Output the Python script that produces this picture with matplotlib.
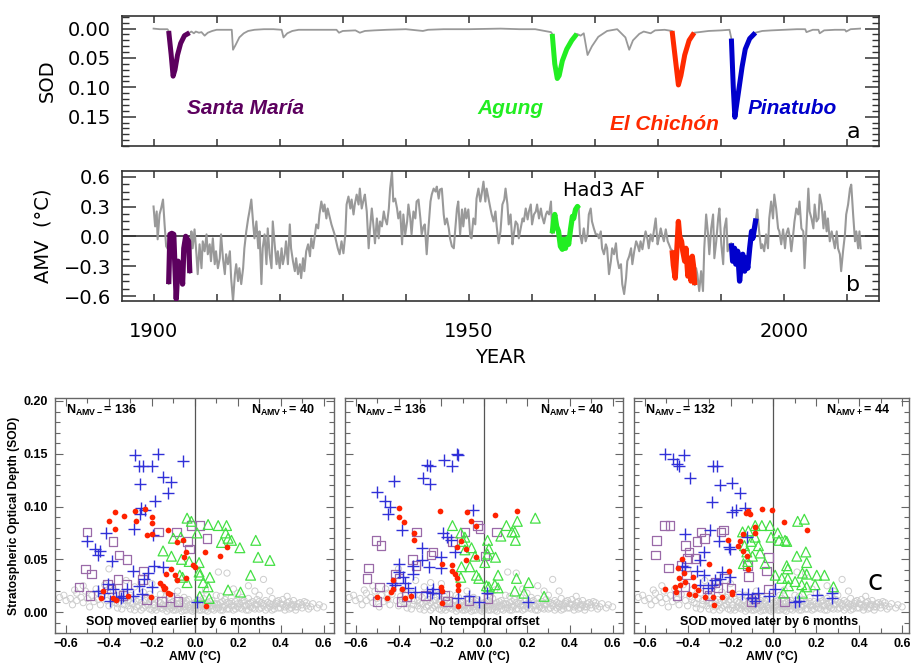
import numpy as np
import matplotlib
matplotlib.use("Agg")
import matplotlib.pyplot as plt
from matplotlib.ticker import MultipleLocator, FuncFormatter

plt.rcParams['font.family'] = ['DejaVu Sans']
plt.rcParams['mathtext.fontset'] = 'custom'
plt.rcParams['mathtext.rm'] = 'Liberation Sans'
plt.rcParams['mathtext.bf'] = 'Liberation Sans:bold'

# ---------------- data: time series ----------------
sod_year = [1900.0, 1901.0, 1902.2, 1902.4, 1902.8, 1903.1, 1903.4, 1903.8, 1904.3, 1904.9,
            1905.7, 1906.0, 1906.4, 1906.7, 1907.2, 1907.6, 1908.1, 1908.6, 1909.3, 1910.0,
            1911.5, 1912.4, 1912.6, 1913.0, 1913.6, 1914.3, 1915.0, 1916.0, 1917.5, 1919.0,
            1920.3, 1920.6, 1921.2, 1922.0, 1923.0, 1925.0, 1927.0, 1929.0, 1929.4, 1930.0,
            1932.0, 1932.7, 1933.5, 1935.0, 1937.0, 1940.0, 1942.7, 1943.5, 1946.0, 1950.0,
            1955.0, 1958.0, 1960.5, 1961.5, 1962.5, 1963.0, 1963.2, 1963.6, 1964.0, 1964.3,
            1964.8, 1965.5, 1966.3, 1967.1, 1967.7, 1968.2, 1968.8, 1969.5, 1970.5, 1971.9,
            1973.5, 1974.8, 1975.4, 1976.0, 1977.0, 1977.7, 1978.8, 1979.5, 1981.0, 1982.2,
            1982.7, 1983.2, 1983.6, 1984.2, 1984.9, 1985.7, 1986.5, 1988.0, 1990.0, 1991.3,
            1991.6, 1991.9, 1992.15, 1992.5, 1992.9, 1993.3, 1993.8, 1994.5, 1995.4, 1996.5,
            1998.0, 2000.0, 2002.0, 2003.3, 2003.5, 2004.5, 2005.4, 2005.6, 2006.3, 2008.0,
            2009.6, 2009.8, 2010.5, 2012.0]
sod_val = [0.000, 0.001, 0.001, 0.004, 0.045, 0.081, 0.070, 0.045, 0.025, 0.012,
           0.007, 0.005, 0.008, 0.005, 0.007, 0.006, 0.012, 0.007, 0.004, 0.002,
           0.002, 0.002, 0.036, 0.028, 0.015, 0.008, 0.004, 0.002, 0.001, 0.001,
           0.002, 0.015, 0.008, 0.004, 0.002, 0.002, 0.002, 0.002, 0.007, 0.004,
           0.003, 0.007, 0.004, 0.003, 0.002, 0.001, 0.004, 0.002, 0.001, 0.001,
           0.000, 0.001, 0.001, 0.003, 0.005, 0.006, 0.009, 0.060, 0.085, 0.080,
           0.055, 0.035, 0.020, 0.009, 0.012, 0.008, 0.045, 0.030, 0.014, 0.004,
           0.001, 0.015, 0.036, 0.020, 0.009, 0.005, 0.008, 0.003, 0.002, 0.004,
           0.050, 0.096, 0.080, 0.045, 0.020, 0.007, 0.006, 0.004, 0.003, 0.002,
           0.017, 0.100, 0.151, 0.125, 0.095, 0.065, 0.035, 0.017, 0.007, 0.004,
           0.003, 0.002, 0.001, 0.001, 0.006, 0.002, 0.002, 0.008, 0.003, 0.002,
           0.002, 0.005, 0.001, 0.000]

amv_year = [1900.0, 1900.25, 1900.5, 1900.65, 1900.95, 1901.2, 1901.5, 1901.75, 1902.0, 1902.3,
            1902.4, 1902.6, 1902.9, 1903.2, 1903.4, 1903.6, 1903.9, 1904.1, 1904.4, 1904.6,
            1904.8, 1905.1, 1905.3, 1905.55, 1905.75, 1906.0, 1906.2, 1906.5, 1906.8, 1907.0,
            1907.3, 1907.6, 1907.8, 1908.1, 1908.4, 1908.6, 1908.9, 1909.1, 1909.4, 1909.7,
            1909.9, 1910.2, 1910.5, 1910.7, 1911.0, 1911.3, 1911.5, 1911.8, 1912.1, 1912.3,
            1912.6, 1912.9, 1913.1, 1913.4, 1913.6, 1913.9, 1914.2, 1914.4, 1914.7, 1915.0,
            1915.2, 1915.5, 1915.8, 1916.0, 1916.3, 1916.6, 1916.8, 1917.1, 1917.3, 1917.6,
            1917.9, 1918.1, 1918.4, 1918.7, 1918.9, 1919.2, 1919.5, 1919.7, 1920.0, 1920.3,
            1920.5, 1920.8, 1921.0, 1921.3, 1921.6, 1921.8, 1922.1, 1922.4, 1922.6, 1922.9,
            1923.2, 1923.4, 1923.7, 1923.9, 1924.2, 1924.5, 1924.8, 1925.0, 1925.3, 1925.6,
            1925.8, 1926.1, 1926.3, 1926.6, 1926.9, 1927.1, 1927.4, 1927.6, 1928.2, 1928.7,
            1929.2, 1929.5, 1929.8, 1930.1, 1930.4, 1930.6, 1930.9, 1931.2, 1931.4, 1931.7,
            1931.9, 1932.2, 1932.5, 1932.7, 1933.0, 1933.3, 1933.5, 1933.8, 1934.1, 1934.3,
            1934.6, 1934.9, 1935.1, 1935.4, 1935.7, 1935.9, 1936.2, 1936.5, 1936.7, 1937.0,
            1937.3, 1937.5, 1937.8, 1938.0, 1938.3, 1938.6, 1938.8, 1939.1, 1939.4, 1939.6,
            1939.9, 1940.2, 1940.4, 1940.7, 1940.9, 1941.2, 1941.5, 1941.7, 1942.0, 1942.3,
            1942.5, 1942.8, 1943.0, 1943.3, 1943.6, 1943.9, 1944.1, 1944.4, 1944.7, 1944.9,
            1945.2, 1945.4, 1945.7, 1946.0, 1946.2, 1946.5, 1946.8, 1947.0, 1947.3, 1947.6,
            1947.8, 1948.1, 1948.3, 1948.6, 1948.9, 1949.1, 1949.4, 1949.6, 1949.9, 1950.2,
            1950.4, 1950.7, 1951.0, 1951.2, 1951.5, 1951.8, 1952.0, 1952.3, 1952.6, 1952.8,
            1953.1, 1953.4, 1953.6, 1953.9, 1954.2, 1954.4, 1954.7, 1955.0, 1955.2, 1955.3,
            1955.6, 1955.8, 1956.1, 1956.3, 1956.6, 1956.9, 1957.1, 1957.4, 1957.7, 1957.9,
            1958.2, 1958.5, 1958.7, 1959.0, 1959.3, 1959.5, 1959.8, 1960.0, 1960.3, 1960.6,
            1960.8, 1961.1, 1961.4, 1961.6, 1961.9, 1962.2, 1962.4, 1962.7, 1963.0, 1963.2,
            1963.4, 1963.6, 1963.9, 1964.2, 1964.5, 1964.8, 1965.0, 1965.3, 1965.6, 1965.8,
            1966.1, 1966.4, 1966.6, 1966.9, 1967.2, 1967.4, 1967.6, 1967.9, 1968.2, 1968.5,
            1968.8, 1969.0, 1969.3, 1969.5, 1969.8, 1970.1, 1970.4, 1970.6, 1970.9, 1971.1,
            1971.4, 1971.7, 1971.9, 1972.2, 1972.5, 1972.7, 1973.0, 1973.3, 1973.5, 1973.8,
            1974.1, 1974.3, 1974.6, 1974.9, 1975.1, 1975.4, 1975.7, 1975.9, 1976.2, 1976.5,
            1976.7, 1977.0, 1977.2, 1977.5, 1977.7, 1978.0, 1978.3, 1978.5, 1978.8, 1979.1,
            1979.3, 1979.6, 1979.9, 1980.1, 1980.4, 1980.6, 1980.9, 1981.2, 1981.5, 1981.7,
            1982.0, 1982.2, 1982.4, 1982.7, 1982.9, 1983.2, 1983.4, 1983.7, 1983.9, 1984.2,
            1984.4, 1984.7, 1984.9, 1985.2, 1985.4, 1985.6, 1985.8, 1986.0, 1986.2, 1986.5,
            1986.8, 1987.1, 1987.3, 1987.6, 1987.9, 1988.1, 1988.4, 1988.7, 1988.9, 1989.2,
            1989.5, 1989.7, 1990.0, 1990.3, 1990.5, 1990.8, 1991.0, 1991.3, 1991.6, 1991.8,
            1992.1, 1992.3, 1992.6, 1992.9, 1993.2, 1993.4, 1993.7, 1993.9, 1994.2, 1994.5,
            1994.8, 1995.0, 1995.3, 1995.5, 1995.7, 1996.0, 1996.3, 1996.5, 1996.8, 1997.1,
            1997.4, 1997.6, 1997.9, 1998.2, 1998.4, 1998.7, 1999.0, 1999.2, 1999.5, 1999.8,
            2000.1, 2000.3, 2000.6, 2000.9, 2001.1, 2001.4, 2001.6, 2001.9, 2002.2, 2002.4,
            2002.7, 2003.0, 2003.2, 2003.5, 2003.8, 2004.0, 2004.3, 2004.6, 2004.8, 2005.1,
            2005.4, 2005.6, 2005.9, 2006.2, 2006.4, 2006.7, 2006.9, 2007.2, 2007.5, 2007.7,
            2008.0, 2008.3, 2008.5, 2008.8, 2009.0, 2009.3, 2009.6, 2009.8, 2010.1, 2010.4,
            2010.6, 2010.9, 2011.2, 2011.4, 2011.7, 2011.9, 2012.1]
amv_val = [0.30, 0.10, 0.25, -0.03, 0.22, 0.28, 0.37, 0.12, -0.10, -0.13,
           -0.48, 0.02, 0.03, 0.02, -0.32, -0.63, -0.25, -0.42, -0.32, -0.48,
           -0.12, 0.00, -0.02, -0.05, -0.37, 0.05, -0.12, 0.07, -0.18, -0.38,
           -0.08, -0.32, -0.05, -0.15, 0.02, -0.18, -0.08, -0.25, -0.02, -0.28,
           -0.15, -0.32, -0.22, 0.02, -0.22, -0.38, -0.18, -0.28, -0.15, -0.42,
           -0.65, -0.38, -0.28, -0.45, -0.32, -0.48, -0.32, -0.12, 0.05, 0.18,
           0.25, 0.37, 0.12, -0.02, 0.15, -0.12, 0.05, -0.48, -0.12, 0.02,
           -0.28, 0.08, -0.18, -0.32, 0.15, -0.08, -0.28, -0.15, -0.32, -0.12,
           -0.28, -0.18, -0.05, -0.28, 0.12, -0.12, -0.25, -0.35, -0.22, -0.38,
           -0.28, -0.42, -0.22, -0.35, -0.15, -0.08, -0.20, -0.02, -0.12, 0.02,
           0.12, 0.08, 0.22, 0.35, 0.25, 0.32, 0.18, 0.28, 0.12, 0.02,
           -0.12, -0.18, -0.05, -0.17, 0.02, 0.32, 0.40, 0.28, 0.37, 0.22,
           0.32, 0.42, 0.32, 0.48, 0.28, 0.37, 0.42, 0.25, -0.12, 0.07,
           0.28, 0.08, -0.07, 0.18, -0.02, 0.15, 0.10, 0.25, 0.18, 0.12,
           0.28, 0.48, 0.65, 0.35, 0.38, 0.28, 0.18, 0.25, -0.08, 0.22,
           0.02, 0.15, 0.32, 0.18, 0.02, 0.25, 0.18, 0.35, 0.37, 0.18,
           0.02, 0.10, 0.12, -0.18, 0.10, 0.35, 0.42, 0.48, 0.45, 0.50,
           0.38, 0.47, 0.48, 0.22, 0.12, 0.18, 0.08, -0.02, -0.10, -0.12,
           0.05, 0.28, 0.35, 0.02, 0.27, 0.10, 0.28, 0.18, 0.27, 0.00,
           -0.02, 0.18, 0.12, 0.38, 0.48, 0.35, 0.42, 0.55, 0.35, 0.48,
           0.38, 0.28, 0.22, 0.15, 0.25, 0.10, -0.07, 0.05, 0.22, 0.32,
           0.37, 0.48, 0.32, 0.12, 0.22, -0.08, 0.02, 0.15, 0.12, -0.02,
           0.08, 0.18, 0.15, 0.28, 0.17, 0.25, 0.32, 0.12, 0.22, 0.25,
           0.32, 0.18, 0.28, 0.20, 0.13, 0.22, 0.25, 0.22, 0.35, 0.03,
           0.15, 0.22, 0.10, 0.05, -0.10, -0.13, -0.03, -0.12, -0.02, -0.08,
           0.07, 0.20, 0.18, 0.27, 0.30, 0.28, 0.02, -0.07, 0.08, -0.05,
           0.02, 0.22, 0.28, 0.15, 0.08, 0.02, 0.02, -0.02, 0.05, -0.12,
           -0.18, -0.08, -0.12, -0.38, -0.25, -0.12, -0.18, -0.07, -0.22, -0.32,
           -0.28, -0.48, -0.58, -0.42, -0.25, -0.20, -0.12, -0.28, -0.15, -0.05,
           -0.08, -0.15, -0.05, -0.13, -0.05, 0.05, -0.03, -0.12, 0.02, -0.05,
           0.05, 0.18, -0.08, -0.02, 0.08, 0.02, -0.05, 0.07, -0.05, -0.08,
           -0.13, -0.14, -0.29, -0.42, -0.20, 0.15, 0.00, -0.05, -0.15, -0.25,
           -0.12, -0.40, -0.22, -0.45, -0.20, -0.30, -0.49, -0.32, -0.38, -0.55,
           -0.35, -0.55, -0.12, 0.22, 0.02, -0.18, 0.08, 0.22, -0.22, -0.05,
           0.18, 0.28, -0.08, -0.28, 0.08, 0.18, -0.15, -0.08, -0.07, -0.25,
           -0.12, -0.28, -0.15, -0.45, -0.25, -0.18, -0.35, -0.22, -0.32, -0.12,
           0.05, -0.02, 0.10, 0.18, 0.27, 0.05, -0.12, -0.08, -0.15, 0.02,
           -0.12, 0.18, 0.35, 0.18, 0.42, 0.28, 0.08, 0.05, -0.08, 0.07,
           -0.12, 0.02, 0.08, -0.02, -0.15, 0.02, 0.15, 0.28, 0.22, 0.35,
           0.08, 0.05, -0.32, 0.08, 0.48, 0.25, 0.18, 0.08, 0.32, 0.15,
           0.18, 0.42, 0.32, 0.08, 0.25, 0.05, 0.18, -0.05, 0.05, -0.02,
           -0.12, 0.05, -0.12, -0.18, -0.35, -0.15, 0.02, 0.22, 0.32, 0.48,
           0.52, 0.22, -0.05, 0.05, -0.12, 0.05, -0.12]

# volcano windows (years) used to highlight both series
volcano_names = ['Santa María', 'Agung', 'El Chichón', 'Pinatubo']
volcano_start = [1902.4, 1963.2, 1982.2, 1991.6]
volcano_end = [1905.75, 1967.4, 1985.8, 1995.5]
volcano_colors = ['#5c005e', '#22ee22', '#ff2a00', '#0000cc']

# ---------------- data: scatter panels (AMV, SOD) ----------------
bg_pts = [(-0.63, 0.014), (-0.61, 0.016), (-0.60, 0.011), (-0.58, 0.013), (-0.57, 0.007), (-0.55, 0.018),
          (-0.55, 0.011), (-0.53, 0.014), (-0.52, 0.009), (-0.51, 0.020), (-0.50, 0.013), (-0.49, 0.005),
          (-0.48, 0.016), (-0.47, 0.010), (-0.46, 0.022), (-0.45, 0.012), (-0.44, 0.007), (-0.43, 0.017),
          (-0.42, 0.026), (-0.41, 0.011), (-0.40, 0.041), (-0.40, 0.006), (-0.39, 0.015), (-0.38, 0.021),
          (-0.37, 0.009), (-0.36, 0.004), (-0.35, 0.013), (-0.34, 0.018), (-0.33, 0.007), (-0.32, 0.030),
          (-0.31, 0.011), (-0.30, 0.003), (-0.30, 0.016), (-0.29, 0.008), (-0.28, 0.024), (-0.27, 0.005),
          (-0.26, 0.012), (-0.25, 0.002), (-0.25, 0.009), (-0.24, 0.019), (-0.23, 0.006), (-0.22, 0.014),
          (-0.21, 0.003), (-0.21, 0.010), (-0.20, 0.027), (-0.19, 0.007), (-0.18, 0.012), (-0.18, 0.002),
          (-0.17, 0.005), (-0.16, 0.009), (-0.16, 0.017), (-0.15, 0.003), (-0.14, 0.011), (-0.14, 0.006),
          (-0.13, 0.001), (-0.12, 0.008), (-0.12, 0.014), (-0.11, 0.004), (-0.10, 0.010), (-0.10, 0.002),
          (-0.09, 0.006), (-0.08, 0.013), (-0.08, 0.003), (-0.07, 0.008), (-0.06, 0.001), (-0.06, 0.011),
          (-0.05, 0.005), (-0.04, 0.008), (-0.04, 0.002), (-0.03, 0.012), (-0.02, 0.004), (-0.02, 0.007),
          (-0.01, 0.001), (0.00, 0.009), (0.00, 0.004), (0.01, 0.006), (0.02, 0.002), (0.02, 0.011),
          (0.03, 0.007), (0.04, 0.003), (0.04, 0.013), (0.05, 0.005), (0.06, 0.009), (0.06, 0.001),
          (0.07, 0.006), (0.08, 0.011), (0.08, 0.003), (0.09, 0.008), (0.10, 0.004), (0.10, 0.016),
          (0.11, 0.038), (0.11, 0.007), (0.12, 0.002), (0.13, 0.010), (0.13, 0.005), (0.14, 0.012),
          (0.15, 0.037), (0.15, 0.003), (0.16, 0.008), (0.17, 0.006), (0.17, 0.014), (0.18, 0.002),
          (0.19, 0.010), (0.20, 0.005), (0.20, 0.018), (0.21, 0.008), (0.22, 0.003), (0.23, 0.011),
          (0.24, 0.006), (0.25, 0.013), (0.25, 0.002), (0.26, 0.009), (0.27, 0.004), (0.28, 0.020),
          (0.28, 0.007), (0.29, 0.012), (0.30, 0.003), (0.31, 0.009), (0.32, 0.031), (0.32, 0.006),
          (0.33, 0.011), (0.34, 0.004), (0.35, 0.008), (0.36, 0.013), (0.36, 0.002), (0.37, 0.006),
          (0.38, 0.010), (0.39, 0.004), (0.40, 0.008), (0.41, 0.012), (0.42, 0.005), (0.43, 0.009),
          (0.44, 0.003), (0.45, 0.007), (0.46, 0.011), (0.47, 0.005), (0.48, 0.008), (0.50, 0.004),
          (0.51, 0.010), (0.52, 0.006), (0.53, 0.003), (0.57, 0.004), (0.58, 0.007), (0.60, 0.005),
          (-0.36, 0.008), (-0.34, 0.003), (-0.33, 0.011), (-0.31, 0.006), (-0.30, 0.009), (-0.28, 0.002),
          (-0.27, 0.010), (-0.26, 0.006), (-0.24, 0.004), (-0.23, 0.011), (-0.22, 0.007), (-0.20, 0.002),
          (-0.20, 0.012), (-0.19, 0.004), (-0.17, 0.010), (-0.16, 0.004), (-0.15, 0.007), (-0.13, 0.005),
          (-0.12, 0.003), (-0.11, 0.009), (-0.10, 0.006), (-0.09, 0.002), (-0.08, 0.008), (-0.07, 0.004),
          (-0.06, 0.007), (-0.05, 0.002), (-0.04, 0.011), (-0.03, 0.005), (-0.02, 0.002), (-0.01, 0.008),
          (0.00, 0.002), (0.01, 0.010), (0.02, 0.005), (0.03, 0.002), (0.03, 0.009), (0.05, 0.008),
          (0.05, 0.002), (0.06, 0.005), (0.07, 0.010), (0.08, 0.006), (0.09, 0.002), (0.10, 0.008),
          (0.11, 0.004), (0.12, 0.009), (0.13, 0.002), (0.14, 0.006), (0.15, 0.009), (0.16, 0.003),
          (0.17, 0.010), (0.18, 0.006), (0.19, 0.003), (0.20, 0.008), (0.21, 0.004), (0.22, 0.010),
          (0.23, 0.006), (0.24, 0.002), (0.25, 0.008), (0.26, 0.005), (0.27, 0.010), (0.28, 0.003),
          (0.29, 0.007), (0.30, 0.010), (0.31, 0.004), (0.32, 0.008), (0.33, 0.002), (0.34, 0.009),
          (0.35, 0.005), (0.36, 0.007), (0.37, 0.003), (0.38, 0.008), (0.39, 0.011), (0.40, 0.004),
          (0.41, 0.007), (0.42, 0.002), (0.43, 0.006), (0.44, 0.010), (0.45, 0.004), (0.46, 0.007),
          (0.47, 0.002), (0.48, 0.005), (0.49, 0.009), (0.50, 0.007), (0.52, 0.009), (0.54, 0.005),
          (0.55, 0.008), (-0.45, 0.018), (-0.38, 0.012), (-0.29, 0.014), (-0.21, 0.017), (-0.13, 0.016),
          (-0.05, 0.014), (0.03, 0.016), (0.12, 0.015), (0.22, 0.014), (0.30, 0.016), (0.35, 0.020),
          (0.18, 0.022), (0.05, 0.021), (-0.08, 0.020), (-0.25, 0.028), (-0.52, 0.025), (-0.56, 0.021),
          (0.43, 0.015), (0.25, 0.025)]

# panel 1: SOD moved earlier by 6 months
stm_early = [(-0.502, 0.076), (-0.381, 0.067), (-0.315, 0.050), (-0.354, 0.054), (-0.508, 0.041),
             (-0.482, 0.036), (-0.540, 0.024), (-0.489, 0.016), (-0.408, 0.026), (-0.357, 0.031),
             (-0.318, 0.026), (-0.391, 0.022), (-0.334, 0.016), (-0.225, 0.012), (-0.238, 0.039),
             (-0.244, 0.031), (-0.155, 0.010), (-0.078, 0.010), (-0.116, 0.014), (-0.169, 0.076),
             (-0.085, 0.076), (-0.034, 0.067), (-0.026, 0.060), (-0.016, 0.082), (0.023, 0.082),
             (0.057, 0.070)]
agu_early = [(-0.036, 0.089), (-0.016, 0.086), (0.011, 0.075), (0.062, 0.083), (0.109, 0.082),
             (0.148, 0.082), (0.144, 0.075), (0.171, 0.068), (0.124, 0.066), (0.155, 0.070),
             (0.210, 0.061), (0.284, 0.068), (0.350, 0.049), (0.295, 0.052), (-0.148, 0.058),
             (-0.100, 0.070), (-0.065, 0.071), (-0.109, 0.053), (-0.062, 0.050), (-0.026, 0.048),
             (0.020, 0.047), (0.020, 0.038), (0.070, 0.033), (0.039, 0.028), (0.062, 0.024),
             (0.067, 0.013), (0.023, 0.015), (-0.057, 0.033), (-0.036, 0.028), (-0.070, 0.035),
             (0.155, 0.021), (0.213, 0.019), (0.260, 0.035), (0.023, 0.035)]
elc_early = [(-0.233, 0.098), (-0.272, 0.086), (-0.331, 0.091), (-0.373, 0.095), (-0.400, 0.086),
             (-0.373, 0.079), (-0.280, 0.096), (-0.199, 0.090), (-0.199, 0.084), (-0.200, 0.074),
             (-0.222, 0.073), (-0.124, 0.078), (-0.057, 0.068), (-0.082, 0.066), (-0.042, 0.057),
             (-0.048, 0.052), (-0.008, 0.045), (0.000, 0.043), (0.048, 0.057), (0.152, 0.062),
             (0.116, 0.053), (-0.113, 0.041), (-0.135, 0.036), (-0.090, 0.035), (-0.085, 0.030),
             (-0.039, 0.032), (-0.160, 0.028), (-0.148, 0.025), (-0.137, 0.023), (-0.124, 0.018),
             (-0.116, 0.017), (-0.143, 0.022), (-0.430, 0.020), (-0.435, 0.013), (-0.380, 0.013),
             (-0.365, 0.012), (-0.205, 0.014), (0.051, 0.006), (-0.310, 0.015)]
pin_early = [(-0.280, 0.149), (-0.171, 0.150), (-0.057, 0.143), (-0.260, 0.138), (-0.240, 0.138),
             (-0.200, 0.138), (-0.150, 0.128), (-0.113, 0.123), (-0.256, 0.121), (-0.124, 0.113),
             (-0.186, 0.105), (-0.249, 0.099), (-0.256, 0.093), (-0.230, 0.097), (-0.281, 0.079),
             (-0.197, 0.073), (-0.415, 0.075), (-0.500, 0.067), (-0.463, 0.060), (-0.443, 0.058),
             (-0.450, 0.054), (-0.388, 0.048), (-0.148, 0.043), (-0.190, 0.044), (-0.290, 0.039),
             (-0.217, 0.037), (-0.238, 0.031), (-0.260, 0.025), (-0.200, 0.024), (-0.404, 0.027),
             (-0.318, 0.022), (-0.380, 0.022), (-0.450, 0.020), (-0.424, 0.018), (-0.365, 0.014),
             (-0.334, 0.015), (-0.290, 0.015), (-0.244, 0.017), (-0.393, 0.011), (0.008, 0.010),
             (-0.342, 0.013)]

# panel 2: no temporal offset
stm_zero = [(-0.506, 0.068), (-0.482, 0.063), (-0.540, 0.042), (-0.548, 0.032), (-0.489, 0.024),
            (-0.500, 0.010), (-0.385, 0.010), (-0.362, 0.015), (-0.315, 0.076), (-0.336, 0.050),
            (-0.318, 0.044), (-0.238, 0.057), (-0.249, 0.054), (-0.413, 0.036), (-0.398, 0.032),
            (-0.273, 0.016), (-0.183, 0.016), (-0.171, 0.010), (-0.071, 0.011), (0.019, 0.013),
            (-0.090, 0.076), (-0.031, 0.082), (-0.020, 0.079), (0.057, 0.076), (0.003, 0.053),
            (-0.149, 0.067)]
agu_zero = [(-0.148, 0.082), (-0.109, 0.075), (-0.090, 0.071), (-0.098, 0.067), (-0.059, 0.061),
            (-0.090, 0.059), (0.016, 0.068), (0.022, 0.060), (-0.043, 0.053), (0.016, 0.055),
            (0.053, 0.052), (0.003, 0.047), (-0.106, 0.043), (-0.067, 0.043), (-0.109, 0.033),
            (-0.036, 0.035), (-0.025, 0.032), (0.065, 0.035), (0.011, 0.025), (0.050, 0.026),
            (0.155, 0.086), (0.104, 0.082), (0.143, 0.076), (0.078, 0.072), (0.146, 0.068),
            (0.130, 0.076), (0.239, 0.089), (0.151, 0.032), (0.208, 0.028), (0.143, 0.020),
            (0.186, 0.018), (0.280, 0.015), (0.022, 0.024), (0.065, 0.023)]
elc_zero = [(-0.398, 0.099), (-0.400, 0.090), (-0.374, 0.085), (-0.328, 0.075), (-0.328, 0.068),
            (-0.207, 0.096), (-0.078, 0.095), (-0.062, 0.086), (-0.036, 0.082), (0.050, 0.092),
            (0.155, 0.096), (-0.129, 0.062), (-0.109, 0.067), (-0.085, 0.060), (-0.087, 0.049),
            (-0.040, 0.052), (-0.152, 0.045), (-0.148, 0.039), (-0.137, 0.036), (-0.129, 0.032),
            (-0.196, 0.046), (-0.202, 0.024), (-0.196, 0.020), (-0.121, 0.026), (-0.121, 0.021),
            (-0.121, 0.006), (-0.342, 0.015), (-0.385, 0.022), (-0.424, 0.030), (-0.427, 0.022),
            (-0.435, 0.019), (-0.455, 0.013), (-0.500, 0.014), (-0.370, 0.013), (-0.199, 0.009)]
pin_zero = [(-0.121, 0.149), (-0.129, 0.150), (-0.186, 0.144), (-0.152, 0.138), (-0.269, 0.139),
            (-0.253, 0.138), (-0.284, 0.127), (-0.253, 0.121), (-0.419, 0.124), (-0.500, 0.114),
            (-0.463, 0.105), (-0.440, 0.100), (-0.450, 0.093), (-0.051, 0.097), (-0.385, 0.078),
            (-0.289, 0.061), (-0.194, 0.075), (-0.172, 0.071), (-0.155, 0.068), (-0.134, 0.057),
            (-0.292, 0.049), (-0.202, 0.052), (-0.331, 0.044), (-0.258, 0.043), (-0.202, 0.042),
            (-0.400, 0.046), (-0.331, 0.036), (-0.429, 0.028), (-0.416, 0.026), (-0.354, 0.023),
            (-0.323, 0.019), (-0.269, 0.019), (-0.238, 0.022), (-0.245, 0.018), (-0.380, 0.033),
            (-0.370, 0.028), (-0.121, 0.013), (-0.071, 0.015), (-0.025, 0.010), (0.011, 0.018),
            (0.205, 0.010), (-0.400, 0.038), (-0.210, 0.018)]

# panel 3: SOD moved later by 6 months
stm_late = [(-0.508, 0.082), (-0.482, 0.082), (-0.544, 0.068), (-0.551, 0.054), (-0.489, 0.042),
            (-0.409, 0.063), (-0.393, 0.057), (-0.400, 0.051), (-0.365, 0.051), (-0.430, 0.044),
            (-0.404, 0.035), (-0.450, 0.016), (-0.412, 0.024), (-0.337, 0.076), (-0.322, 0.070),
            (-0.357, 0.067), (-0.244, 0.076), (-0.233, 0.078), (-0.259, 0.023), (-0.310, 0.022),
            (-0.272, 0.028), (-0.228, 0.032), (-0.197, 0.023), (-0.117, 0.034), (-0.120, 0.044),
            (-0.031, 0.039), (-0.023, 0.052), (-0.101, 0.010), (-0.085, 0.013), (-0.023, 0.022),
            (0.051, 0.010), (-0.298, 0.016)]
agu_late = [(-0.144, 0.076), (-0.117, 0.077), (-0.085, 0.082), (-0.054, 0.082), (-0.016, 0.082),
            (0.020, 0.075), (-0.011, 0.071), (0.026, 0.068), (0.054, 0.068), (0.062, 0.067),
            (0.113, 0.086), (0.144, 0.088), (-0.085, 0.071), (-0.104, 0.067), (-0.070, 0.063),
            (-0.135, 0.063), (-0.124, 0.057), (-0.062, 0.056), (-0.098, 0.053), (-0.120, 0.048),
            (-0.140, 0.046), (-0.039, 0.046), (0.109, 0.053), (0.151, 0.057), (0.155, 0.047),
            (0.062, 0.044), (0.008, 0.035), (0.039, 0.032), (0.067, 0.032), (0.067, 0.041),
            (0.135, 0.037), (0.155, 0.036), (0.202, 0.035), (0.238, 0.035), (0.194, 0.026),
            (0.132, 0.026), (0.155, 0.024), (0.070, 0.025), (0.135, 0.018), (0.047, 0.018),
            (0.280, 0.024), (0.101, 0.029)]
elc_late = [(-0.051, 0.098), (-0.008, 0.097), (-0.117, 0.096), (-0.129, 0.094), (-0.109, 0.093),
            (0.050, 0.085), (0.155, 0.078), (-0.085, 0.081), (-0.085, 0.075), (-0.140, 0.074),
            (-0.155, 0.067), (-0.210, 0.068), (-0.166, 0.063), (-0.140, 0.058), (-0.124, 0.053),
            (-0.300, 0.046), (-0.207, 0.039), (-0.120, 0.041), (-0.427, 0.050), (-0.443, 0.042),
            (-0.419, 0.037), (-0.412, 0.029), (-0.440, 0.032), (-0.458, 0.024), (-0.454, 0.019),
            (-0.505, 0.022), (-0.435, 0.026), (-0.373, 0.033), (-0.368, 0.025), (-0.365, 0.016),
            (-0.393, 0.017), (-0.318, 0.014), (-0.280, 0.014), (-0.275, 0.007), (-0.241, 0.014),
            (-0.194, 0.019), (-0.194, 0.017), (-0.350, 0.021)]
pin_late = [(-0.505, 0.150), (-0.466, 0.145), (-0.450, 0.140), (-0.440, 0.138), (-0.419, 0.149),
            (-0.284, 0.138), (-0.264, 0.138), (-0.388, 0.127), (-0.249, 0.120), (-0.194, 0.122),
            (-0.155, 0.113), (-0.287, 0.104), (-0.194, 0.095), (-0.176, 0.097), (-0.132, 0.099),
            (-0.412, 0.074), (-0.295, 0.078), (-0.253, 0.067), (-0.207, 0.062), (-0.202, 0.060),
            (-0.124, 0.071), (-0.326, 0.057), (-0.342, 0.049), (-0.427, 0.044), (-0.412, 0.043),
            (-0.357, 0.039), (-0.241, 0.038), (-0.322, 0.035), (-0.202, 0.033), (-0.272, 0.030),
            (-0.249, 0.031), (-0.342, 0.026), (-0.287, 0.026), (-0.306, 0.023), (-0.148, 0.017),
            (-0.117, 0.017), (-0.101, 0.013), (-0.070, 0.018), (-0.085, 0.011), (0.005, 0.022),
            (-0.020, 0.015), (0.117, 0.011), (0.202, 0.016), (0.272, 0.018), (0.275, 0.013),
            (0.101, 0.010)]

panels = [
    dict(stm=stm_early, agu=agu_early, elc=elc_early, pin=pin_early,
         nminus='136', nplus='40', note='SOD moved earlier by 6 months', note_x=0.45),
    dict(stm=stm_zero, agu=agu_zero, elc=elc_zero, pin=pin_zero,
         nminus='136', nplus='40', note='No temporal offset', note_x=0.50),
    dict(stm=stm_late, agu=agu_late, elc=elc_late, pin=pin_late,
         nminus='132', nplus='44', note='SOD moved later by 6 months', note_x=0.49),
]

# ---------------- figure ----------------
fig = plt.figure(figsize=(9.12, 6.65), dpi=100)
W, H = 912.0, 665.0


def px_axes(l, t, r, b):
    return fig.add_axes([l / W, 1 - b / H, (r - l) / W, (b - t) / H])


gray = '#999999'
spine_c = '#333333'

ax_a = px_axes(122, 15.7, 879, 146)
ax_b = px_axes(122, 170.7, 879, 301)

sod_year = np.array(sod_year)
sod_val = np.array(sod_val)
amv_year = np.array(amv_year)
amv_val = np.array(amv_val)

ax_a.plot(sod_year, sod_val, color=gray, lw=1.3, zorder=2)
ax_b.plot(amv_year, amv_val, color=gray, lw=1.5, zorder=2)
ax_b.axhline(0, color='#333333', lw=1.2, zorder=1)
for s, e, c in zip(volcano_start, volcano_end, volcano_colors):
    m = (sod_year >= s) & (sod_year <= e)
    ax_a.plot(sod_year[m], sod_val[m], color=c, lw=3.6, zorder=3, solid_capstyle='butt')
    m = (amv_year >= s) & (amv_year <= e)
    ax_b.plot(amv_year[m], amv_val[m], color=c, lw=3.8, zorder=3, solid_capstyle='butt')

for ax in (ax_a, ax_b):
    ax.set_xlim(1895, 2015)
    ax.xaxis.set_major_locator(MultipleLocator(10))
    for sp in ax.spines.values():
        sp.set_color(spine_c)
        sp.set_linewidth(1.2)
    ax.tick_params(axis='x', which='major', direction='in', top=True, length=5, width=1.1, color=spine_c)
    ax.tick_params(axis='y', which='major', direction='in', right=True, length=10, width=1.1,
                   color=spine_c, labelsize=14, pad=8)
    ax.tick_params(axis='y', which='minor', direction='in', right=True, length=5, width=1.0, color=spine_c)

ax_a.set_ylim(0.20, -0.022)
ax_a.yaxis.set_minor_locator(MultipleLocator(0.01))
ax_a.set_yticks([0.0, 0.05, 0.10, 0.15])
ax_a.yaxis.set_major_formatter(FuncFormatter(lambda v, p: '%.2f' % abs(v)))
ax_a.tick_params(axis='x', labelbottom=False)
ax_a.set_ylabel('SOD', fontsize=14, labelpad=8)

ax_b.set_ylim(-0.65, 0.66)
ax_b.set_yticks([-0.6, -0.3, 0.0, 0.3, 0.6])
ax_b.yaxis.set_minor_locator(MultipleLocator(0.075))
ax_b.yaxis.set_major_formatter(FuncFormatter(lambda v, p: ('%.1f' % v).replace('-', '\u2212')))
ax_b.xaxis.set_major_formatter(FuncFormatter(lambda v, p: '%d' % v if int(round(v)) % 50 == 0 else ''))
ax_b.tick_params(axis='x', labelsize=14, pad=15)
ax_b.set_ylabel('AMV  (°C)', fontsize=14, labelpad=8)
ax_b.set_xlabel('YEAR', fontsize=14, labelpad=5)

lab_font = dict(family='Liberation Sans', weight='bold', style='italic', fontsize=15)
label_pos = [(187, 108), (477, 108), (610, 125), (748, 108)]
for name, c, (x, y) in zip(volcano_names, volcano_colors, label_pos):
    ax_a.text(x / W, 1 - y / H, name, transform=fig.transFigure, color=c,
              ha='left', va='center', **lab_font)
fig.text(847 / W, 1 - 132 / H, 'a', fontsize=16, ha='left', va='center')
fig.text(563 / W, 1 - 190 / H, 'Had3 AF', fontsize=14, ha='left', va='center')
fig.text(846 / W, 1 - 285 / H, 'b', fontsize=16, ha='left', va='center')

# ---------------- scatter panels ----------------
sc_font = dict(family='Liberation Sans', weight='bold')
boxes = [(55.3, 334.3, (-0.65, 0.65)), (345, 623.3, (-0.65, 0.65)), (634, 909, (-0.65, 0.632))]
bg_x = [p[0] for p in bg_pts]
bg_y = [p[1] for p in bg_pts]
for i, (pd, (l, r, xl)) in enumerate(zip(panels, boxes)):
    ax = px_axes(l, 398.3, r, 633.3)
    ax.scatter(bg_x, bg_y, s=20, facecolors='none', edgecolors='#cdcdcd', linewidths=0.7, zorder=1)
    ax.axvline(0, color='#555555', lw=0.9, zorder=2)
    x, y = zip(*pd['stm'])
    ax.scatter(x, y, s=38, marker='s', facecolors='none', edgecolors='#9a6aa8', linewidths=0.9, zorder=3)
    x, y = zip(*pd['agu'])
    ax.scatter(x, y, s=50, marker='^', facecolors='none', edgecolors='#44e044', linewidths=0.9, zorder=3)
    x, y = zip(*pd['pin'])
    ax.scatter(x, y, s=75, marker='+', color='#3030d8', linewidths=1.0, zorder=4)
    x, y = zip(*pd['elc'])
    ax.scatter(x, y, s=17, marker='o', color='#ff2200', linewidths=0, zorder=5)

    ax.set_xlim(*xl)
    ax.set_ylim(-0.02, 0.2025)
    ax.set_xticks([-0.6, -0.4, -0.2, 0.0, 0.2, 0.4, 0.6])
    ax.xaxis.set_minor_locator(MultipleLocator(0.1))
    ax.yaxis.set_major_locator(MultipleLocator(0.05))
    ax.yaxis.set_minor_locator(MultipleLocator(0.01))
    ax.xaxis.set_major_formatter(FuncFormatter(lambda v, p: ('%.1f' % v).replace('-', '\u2212')))
    ax.yaxis.set_major_formatter(FuncFormatter(lambda v, p: '%.2f' % v))
    for sp in ax.spines.values():
        sp.set_color('#666666')
        sp.set_linewidth(1.0)
    ax.tick_params(which='both', direction='in', top=True, right=True, color='#666666', width=0.8)
    ax.tick_params(which='major', length=6, labelsize=9)
    ax.tick_params(axis='x', which='major', pad=3.5)
    ax.tick_params(axis='y', which='major', pad=5)
    ax.tick_params(which='minor', length=3.5)
    for t in ax.get_xticklabels() + ax.get_yticklabels():
        t.set_fontfamily('Liberation Sans')
        t.set_fontweight('bold')
    if i > 0:
        ax.tick_params(axis='y', labelleft=False)
    else:
        ax.set_ylabel('Stratospheric Optical Depth (SOD)', fontsize=8.7, labelpad=3, **sc_font)
    ax.set_xlabel('AMV (°C)', fontsize=8.7, labelpad=0.5, **sc_font)

    ax.text(0.04, 0.95, r'$\mathbf{N_{AMV-}}$= ' + pd['nminus'], transform=ax.transAxes,
            fontsize=9, ha='left', va='center', **sc_font)
    ax.text(0.70, 0.95, r'$\mathbf{N_{AMV+}}$= ' + pd['nplus'], transform=ax.transAxes,
            fontsize=9, ha='left', va='center', **sc_font)
    ax.text(pd['note_x'], 0.05, pd['note'], transform=ax.transAxes,
            fontsize=9, ha='center', va='center', **sc_font)
    if i == 2:
        ax.text(875.5 / W, 1 - 582 / H, 'c', transform=fig.transFigure, fontsize=20,
                ha='center', va='center')

fig.savefig('out.png', dpi=100)
